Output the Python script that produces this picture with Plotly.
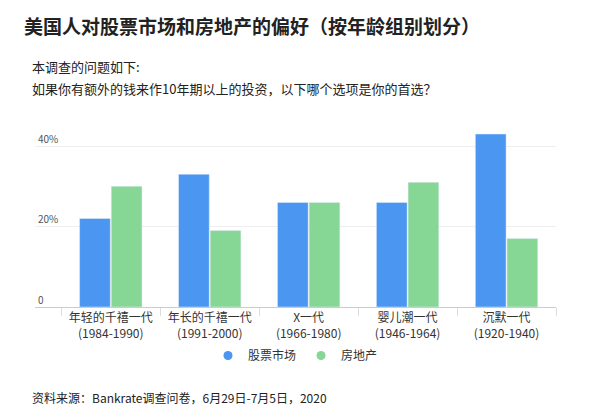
import plotly.graph_objs as go

categories = ["年轻的千禧一代<br>(1984-1990)", "年长的千禧一代<br>(1991-2000)", "X一代<br>(1966-1980)",
              "婴儿潮一代<br>(1946-1964)", "沉默一代<br>(1920-1940)"]
stocks = [22, 33, 26, 26, 43]
real_estate = [30, 19, 26, 31, 17]

font = "Noto Sans CJK SC"
blue = "#4a96f0"
green = "#86d695"

fig = go.Figure(
    data=[
        go.Bar(x=categories, y=stocks, name="股票市场", marker_color=blue, showlegend=False),
        go.Bar(x=categories, y=real_estate, name="房地产", marker_color=green, showlegend=False),
        # legend entries drawn as dots, like the reference
        go.Scatter(x=[None], y=[None], mode="markers", name="股票市场",
                   marker=dict(color=blue, size=9)),
        go.Scatter(x=[None], y=[None], mode="markers", name="房地产",
                   marker=dict(color=green, size=9)),
    ]
)

fig.update_layout(
    width=600,
    height=415,
    paper_bgcolor="white",
    plot_bgcolor="white",
    font=dict(family=font, color="#333"),
    margin=dict(l=27, r=52, t=120, b=116),
    barmode="group",
    bargap=0.36,
    bargroupgap=0.03,
    legend=dict(orientation="h", x=0.5, xanchor="center", y=-0.19, yanchor="top",
                font=dict(size=12), itemwidth=30, tracegroupgap=0),
    xaxis=dict(showline=True, linecolor="#ccc", tickfont=dict(size=12, color="#333"),
               ticks="outside", tickson="boundaries", tickcolor="#ddd", ticklen=8),
    yaxis=dict(range=[0, 44.5], tickvals=[0, 20, 40], ticktext=["0", "20%", "40%"],
               gridcolor="#eee", ticklabelposition="inside top", zeroline=False,
               tickfont=dict(size=10, color="#555")),
)

# y values here are pixel rows in the plot's own frame (domain bottom = 299)
texts = [
    ("<b>美国人对股票市场和房地产的偏好（按年龄组别划分）</b>", 14, 25, 19),
    ("本调查的问题如下:", 22, 66, 13),
    ("如果你有额外的钱来作10年期以上的投资，以下哪个选项是你的首选？", 22, 88, 13),
    ("资料来源：Bankrate调查问卷，6月29日-7月5日，2020", 22, 397, 12),
]
for t, x, y, s in texts:
    fig.add_annotation(text=t, x=(x - 27) / 521, y=(307 - y) / 179, xref="paper", yref="paper",
                       xanchor="left", yanchor="middle", showarrow=False,
                       font=dict(size=s, color="#222"))

fig.write_html("out.html")
